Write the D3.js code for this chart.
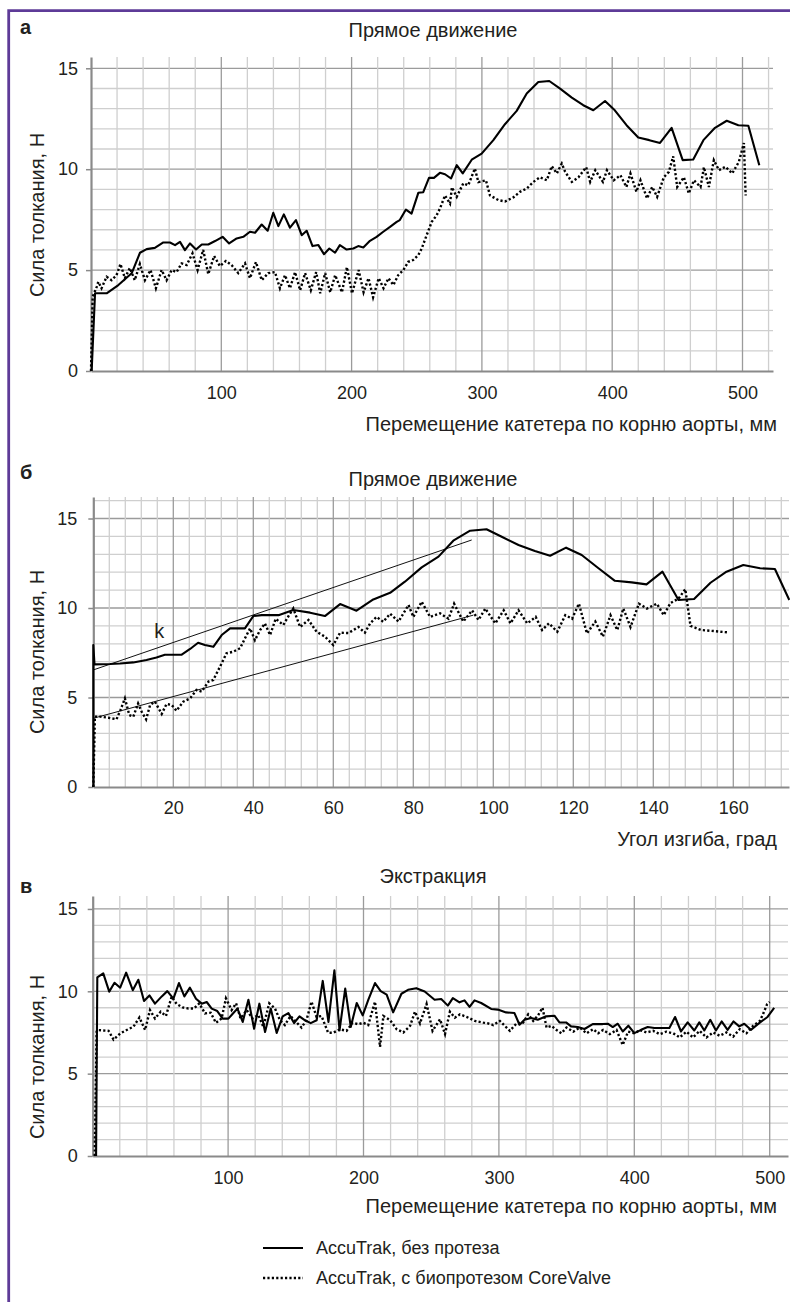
<!DOCTYPE html>
<html>
<head>
<meta charset="utf-8">
<script src="https://cdn.jsdelivr.net/npm/d3@7"></script>
<style>
  body { margin: 0; background: #fff; }
  svg text { font-family: "Liberation Sans", Arial, sans-serif; fill: #231f20; }
</style>
</head>
<body>
<svg id="chart" width="790" height="1302"></svg>
<script>
// ---- data (x: mm or degrees, y: N) ----
const aSolid = [[0.5,0],[3.1,3.85],[12,3.85],[21,4.26],[31.2,4.84],[37.6,5.86],[42.7,6.04],[49,6.1],[55.5,6.37],[60.6,6.37],[64.5,6.24],[68.3,6.4],[72.1,5.99],[76,6.32],[80.6,6.02],[85,6.27],[90,6.27],[95.2,6.44],[101,6.65],[106,6.32],[111.8,6.57],[116.9,6.65],[122,6.9],[125.9,6.85],[131,7.26],[135.6,6.95],[139.9,7.84],[143.8,7.18],[148,7.76],[152.7,7.1],[157.3,7.48],[161.7,6.73],[165.5,6.95],[170,6.19],[174.5,6.24],[178.8,5.79],[182.9,6.07],[187.3,5.86],[191,6.24],[196.2,6.02],[201.3,6.07],[205.1,6.19],[209,6.12],[214.1,6.45],[219.2,6.65],[224.3,6.9],[229.5,7.14],[234.6,7.39],[237,7.48],[241.7,8.0],[246,7.8],[251.2,8.83],[255,8.86],[259.4,9.57],[263.2,9.57],[267.8,9.82],[271.7,9.75],[276.3,9.54],[280.7,10.2],[285.3,9.79],[292.2,10.47],[299.8,10.77],[308.8,11.44],[317.7,12.23],[326.7,12.89],[334.4,13.75],[343.3,14.32],[351.7,14.37],[360,13.99],[369,13.55],[377.8,13.17],[385.5,12.92],[394.5,13.38],[402,12.92],[411,12.18],[420,11.57],[428.5,11.44],[436.7,11.3],[445.6,12.05],[454.1,10.45],[462.2,10.48],[470,11.44],[478.9,12.05],[487.9,12.4],[496.8,12.18],[504.5,12.15],[512.9,10.2]];

const aDotted = [[0,0],[1.3,3.68],[4.4,4.17],[5.6,4.42],[8.1,4.1],[12,4.67],[15.8,4.5],[19.6,4.75],[22.6,5.3],[26,4.6],[29.8,5.1],[33.6,4.5],[37.5,5.3],[41.4,4.5],[45.7,5.0],[49.8,4.1],[54.2,5.0],[58,4.5],[61.9,5.0],[65.7,4.9],[69.5,5.33],[73.4,5.25],[77.9,5.83],[81.8,5.0],[86.1,6.0],[90,4.8],[94.5,5.7],[98.9,5.2],[103.5,5.45],[107.9,5.25],[113,4.85],[118.2,5.33],[122,4.6],[126.6,5.4],[131,4.5],[136,4.85],[141.2,4.9],[145,4.1],[148.9,4.75],[152.7,4.1],[156.6,4.9],[160.5,4.0],[164.3,4.85],[168.7,4.0],[172.8,4.9],[175.9,3.85],[179.7,4.85],[183.6,3.9],[187.4,4.75],[192.6,3.9],[196.4,5.15],[200.3,3.85],[205.4,5.0],[209.2,3.9],[213,4.6],[216.5,3.65],[220.8,4.6],[224.5,4.1],[228.3,4.6],[232.1,4.26],[235.8,4.75],[239.7,5.0],[243.5,5.41],[247.3,5.5],[251.2,5.74],[253.8,6.07],[257.6,6.73],[261.5,7.39],[265.3,7.72],[267.8,8.05],[271.7,8.7],[275.5,8.3],[277,9.1],[280.7,8.63],[285.7,9.3],[289.5,9.2],[294.6,10.03],[297.3,9.36],[303.1,9.45],[306.2,8.7],[312.6,8.47],[317.7,8.4],[324.1,8.6],[329.2,8.88],[334.4,9.04],[339.5,9.37],[344.6,9.6],[349.8,9.45],[353.6,10.15],[357.5,9.79],[361.3,10.28],[363.9,9.87],[369,9.37],[374.1,9.6],[380,10.1],[383.1,9.37],[387,9.95],[392.9,9.37],[396,9.95],[401.2,9.45],[406.3,9.7],[410.9,9.12],[414,9.79],[418.6,8.88],[421.7,9.45],[426.8,8.55],[430.7,9.12],[434.5,8.63],[439.6,9.6],[443.5,9.87],[446.8,10.64],[449.9,9.12],[455,9.6],[458.8,8.8],[462.7,9.45],[467.8,9.12],[470.4,10.1],[474.2,9.12],[478,10.45],[481.9,9.95],[487,10.12],[492.1,9.79],[497.2,10.36],[501.1,11.3],[502.4,8.7]];

const bSolid = [[0,0],[0,7.93],[0.3,6.85],[4.2,6.87],[6.7,6.9],[10,6.96],[13.3,7.09],[15.8,7.24],[17.9,7.39],[22.1,7.39],[24.2,7.71],[26.2,8.06],[27.9,7.93],[30,7.83],[32.1,8.49],[34.2,8.86],[37.9,8.86],[40,9.55],[42.1,9.6],[46.3,9.6],[50,9.89],[54.2,9.74],[57.9,9.55],[61.7,10.22],[65.8,9.85],[70,10.48],[74.2,10.85],[77.9,11.47],[82.1,12.27],[86.3,12.87],[90,13.76],[94.2,14.32],[98.3,14.4],[102.1,13.98],[106.3,13.52],[110.4,13.18],[114.2,12.92],[118.2,13.37],[122.1,12.96],[126.3,12.22],[130.4,11.52],[134.6,11.43],[138.3,11.32],[142.3,12.03],[146.3,10.45],[150.2,10.5],[154.3,11.41],[158.3,12.03],[162.5,12.4],[166.7,12.22],[170.4,12.18],[174,10.45]];

const bDotted = [[0,0],[0.4,3.93],[1.7,3.93],[3.8,3.87],[5.8,3.78],[6.8,4.3],[7.9,4.95],[9,4.02],[10,3.93],[11.2,4.67],[12.1,4.2],[13.2,3.78],[14.2,4.58],[15.4,4.77],[17.1,4.08],[18.3,4.64],[19.6,4.58],[20.8,4.26],[22.5,4.77],[24.2,4.95],[25.8,5.42],[27.1,5.33],[28.8,5.89],[30,5.98],[31.7,6.73],[33.3,7.47],[35,7.56],[36.7,7.75],[37.9,8.3],[39.2,8.86],[40.4,8.2],[41.7,8.77],[42.9,9.14],[44.2,8.49],[45.6,9.4],[47.5,9.05],[48.8,9.55],[50,9.97],[51.7,8.94],[53.8,9.33],[55.8,8.68],[57.9,8.4],[60,7.93],[61.7,8.62],[63.8,8.6],[66.3,8.94],[67.9,8.62],[69.2,9.14],[70.8,9.5],[72.5,9.23],[74.2,9.68],[76.3,9.24],[78.8,10.17],[80,9.5],[82.1,10.35],[84.2,9.5],[86.7,9.7],[88.8,9.4],[90.2,10.24],[92.5,9.24],[94.7,9.87],[96.3,9.33],[98,9.97],[100.5,9.14],[102.6,9.87],[104.3,9.14],[106.3,9.87],[108.5,9.14],[110.6,9.5],[112.2,8.77],[113.9,9.14],[116,8.68],[118,9.6],[119.7,9.4],[121.4,10.24],[123.4,8.58],[125.5,9.24],[127.4,8.4],[129.3,9.6],[131,8.77],[132.5,9.97],[134.3,8.94],[136.4,10.24],[138.4,9.97],[140.9,10.24],[142.6,9.6],[144.3,10.28],[146.3,10.52],[148,11.05],[149.3,9.0],[151.9,8.77],[155.2,8.71],[158.5,8.64]];

// straight reference lines drawn over panel б: [x0, y0, x1, y1]
const bTrendUpper = [0, 6.54, 94.6, 13.8];
const bTrendLower = [0, 3.84, 95, 9.6];
const bTrendLabel = [16.5, 8.3];

const cSolid = [[2.5,0],[3.4,10.85],[7.8,11.09],[12.2,9.98],[16.1,10.52],[20.3,10.22],[24.7,11.13],[29.6,10.07],[33.7,10.7],[37.9,9.41],[41.9,9.75],[46,9.25],[51,9.69],[55.1,10.01],[59.6,9.55],[63.7,10.5],[67.7,9.69],[71.8,10.22],[76.3,9.55],[80.5,9.25],[84.2,9.35],[87.9,8.95],[92,8.8],[96,8.34],[100.2,8.34],[103.9,8.68],[106.9,8.95],[110.8,8.14],[115,9.49],[119.2,7.73],[123.1,9.25],[127.3,7.53],[131.5,8.95],[135.9,7.47],[140.3,8.48],[144.5,8.68],[148.7,8.07],[152.7,8.48],[156.8,8.24],[161,8.07],[165.4,8.24],[169.9,10.63],[174.1,8.14],[178.5,11.27],[182.3,7.63],[186.5,10.16],[190.6,7.84],[195,9.29],[199.4,8.54],[203.6,9.49],[208.5,10.5],[212.7,10.01],[217.1,9.8],[221.9,8.72],[228,9.85],[232.9,10.09],[239,10.19],[245.2,9.99],[252.5,9.49],[257.4,9.53],[262.3,9.13],[266,9.59],[270.9,9.33],[274.6,9.45],[278.3,9.05],[282,9.45],[286.9,9.29],[294.3,8.93],[299.2,8.89],[305.3,8.72],[311.5,8.68],[315.2,7.97],[318.9,8.27],[323.8,8.38],[328.7,8.27],[334.9,8.48],[341,8.52],[344.7,8.11],[349.6,8.11],[353.3,7.87],[358.3,7.83],[363.2,7.71],[369.3,8.01],[376.7,8.01],[380.4,8.03],[384.1,7.83],[387.8,8.03],[391.5,7.56],[395.6,7.91],[400.1,7.46],[405,7.66],[409.9,7.83],[414.8,7.77],[421,7.77],[425.9,7.77],[430.1,8.44],[434.5,7.56],[439.4,8.11],[444.3,7.62],[448,8.11],[451.7,7.62],[456.1,8.27],[460.3,7.62],[464.5,8.17],[468.9,7.66],[473.3,8.17],[477.5,7.87],[481.2,8.03],[486.1,7.66],[492.2,8.07],[498.4,8.44],[503.3,8.99]];

const cDotted = [[1.5,0],[2.9,7.55],[3.5,7.65],[11.7,7.6],[15.4,7.07],[20.3,7.44],[25.1,7.65],[30.1,7.85],[34.5,8.41],[38.7,7.65],[42.3,8.86],[46,8.35],[50.2,8.76],[54.1,8.5],[58.3,9.67],[62,9.23],[66.4,9.02],[70.6,8.96],[74.8,8.96],[78.7,9.27],[82.9,8.66],[87.1,8.7],[91,8.09],[95.2,8.35],[98.4,9.57],[102.6,8.86],[105.9,9.27],[109.2,8.35],[113.7,8.86],[118.1,8.35],[122.3,8.56],[126,7.85],[130.4,9.27],[134.6,8.96],[138.3,8.25],[141.9,7.95],[146.1,8.5],[150.1,8.15],[154.2,7.8],[157.9,8.25],[161.6,9.37],[165.3,8.45],[169,8.5],[173.9,7.48],[177.6,7.48],[182.5,7.69],[187.5,7.6],[191.9,8.09],[196.1,8.0],[199.8,8.09],[203.5,7.95],[208.5,9.37],[212.2,6.63],[214.7,8.5],[219.6,8.25],[224.5,7.7],[229.4,7.5],[234.4,7.9],[238,8.76],[241.7,8.05],[246.6,9.23],[251,7.6],[256.5,8.3],[260.2,7.4],[263.8,8.76],[267.5,8.4],[271.2,8.6],[276.1,8.45],[282.3,8.2],[288.4,8.1],[292.1,8.05],[295.8,7.95],[300.7,8.2],[304.4,7.9],[308.1,7.6],[313,8.05],[317.9,8.1],[321.6,8.6],[325.3,8.2],[329,8.55],[332.2,9.0],[335.2,7.8],[338.9,7.9],[342.6,7.65],[346.2,7.45],[349.9,7.8],[354.9,7.55],[359.8,7.8],[364.7,7.45],[369.6,7.7],[373.3,7.45],[377,7.65],[381.9,7.4],[386.9,7.65],[391.4,6.74],[395.4,7.55],[400.4,7.45],[404,7.65],[409,7.5],[413.9,7.6],[418.8,7.4],[423.7,7.55],[428.7,7.45],[433.6,7.2],[438.5,7.55],[443.4,7.2],[448.3,7.6],[453.3,7.2],[458.2,7.5],[463.1,7.3],[468,7.5],[473,7.25],[477.9,7.7],[482.8,7.45],[487.7,7.9],[492.7,8.2],[495,8.6],[498,9.2],[500,9.35]];

const yTicks = [0, 5, 10, 15];
const aXTicks = [100, 200, 300, 400, 500];
const bXTicks = [20, 40, 60, 80, 100, 120, 140, 160];
const cXTicks = [100, 200, 300, 400, 500];

const Y_LABEL = "Сила толкания, Н";
const X_LABEL_MM = "Перемещение катетера по корню аорты, мм";
const X_LABEL_DEG = "Угол изгиба, град";
const LEGEND = ["AccuTrak, без протеза", "AccuTrak, с биопротезом CoreValve"];

// ---- layout ----
const FRAME_COLOR = "#5e3b98";
const MINOR_GRID = "#cfcfcf";
const MAJOR_GRID = "#9b9b9b";
const AXIS_COLOR = "#8a8a8a";
const LINE_WIDTH = 2.1;
const DOT_DASH = "2.2 2.2";
const TICK_FONT = 18;
const TEXT_FONT = 20;

const PANELS = [
    { letter: "а", letterY: 34, title: "Прямое движение", titleY: 37,
      x0: 91, kx: 1.303, right: 773, y0: 371, ky: 20.18, top: 57,
      minorX: 20, majorX: 100, xTicks: aXTicks, xLabel: X_LABEL_MM, xLabelY: 431, yLabelY: 215,
      tickPadX: 15, tickPadY: 8, solid: aSolid, dotted: aDotted },
    { letter: "б", letterY: 479, title: "Прямое движение", titleY: 486,
      x0: 93.3, kx: 4.0, right: 789, y0: 787, ky: 17.9, top: 497,
      minorX: 4, majorX: 20, xTicks: bXTicks, xLabel: X_LABEL_DEG, xLabelY: 846, yLabelY: 652,
      tickPadX: 14, tickPadY: 11, solid: bSolid, dotted: bDotted,
      trends: [bTrendUpper, bTrendLower], trendLabel: bTrendLabel },
    { letter: "в", letterY: 893, title: "Экстракция", titleY: 883,
      x0: 92.7, kx: 1.354, right: 788, y0: 1156, ky: 16.47, top: 896,
      minorX: 20, majorX: 100, xTicks: cXTicks, xLabel: X_LABEL_MM, xLabelY: 1213, yLabelY: 1057,
      tickPadX: 15, tickPadY: 10, solid: cSolid, dotted: cDotted }
];

const svg = d3.select("#chart");

// purple frame (top and left edges)
svg.append("path")
    .attr("d", "M8.7,1302 V10.7 H790")
    .attr("fill", "none")
    .attr("stroke", FRAME_COLOR)
    .attr("stroke-width", 2.8);

PANELS.forEach(drawPanel);
drawLegend();

function drawPanel(p) {
    const xMax = (p.right - p.x0) / p.kx;
    const yMax = (p.y0 - p.top) / p.ky;
    const x = d3.scaleLinear().domain([0, xMax]).range([p.x0, p.right]);
    const y = d3.scaleLinear().domain([0, yMax]).range([p.y0, p.top]);
    const g = svg.append("g");

    // grid
    const vLines = d3.range(p.minorX, xMax, p.minorX);
    const hLines = d3.range(1, Math.floor(yMax) + 1);
    const isMajorX = v => Math.abs(v / p.majorX - Math.round(v / p.majorX)) < 1e-6;
    g.append("g").selectAll("line")
        .data(hLines)
        .join("line")
        .attr("x1", p.x0).attr("x2", p.right)
        .attr("y1", d => y(d)).attr("y2", d => y(d))
        .attr("stroke", d => d % 5 === 0 ? MAJOR_GRID : MINOR_GRID)
        .attr("stroke-width", 1.3);
    g.append("g").selectAll("line")
        .data(vLines)
        .join("line")
        .attr("x1", d => x(d)).attr("x2", d => x(d))
        .attr("y1", p.y0).attr("y2", p.top)
        .attr("stroke", d => isMajorX(d) ? MAJOR_GRID : MINOR_GRID)
        .attr("stroke-width", 1.3);

    // axes
    const yAxis = g.append("g")
        .attr("transform", `translate(${p.x0},0)`)
        .call(d3.axisLeft(y).tickValues(yTicks).tickSize(5).tickSizeOuter(0).tickPadding(p.tickPadY));
    const xAxis = g.append("g")
        .attr("transform", `translate(0,${p.y0})`)
        .call(d3.axisBottom(x).tickValues(p.xTicks).tickSize(0).tickSizeOuter(0).tickPadding(p.tickPadX));
    [yAxis, xAxis].forEach(a => {
        a.select(".domain").attr("stroke", AXIS_COLOR).attr("stroke-width", 2.2);
        a.selectAll(".tick line").attr("stroke", AXIS_COLOR).attr("stroke-width", 1.5);
        a.selectAll(".tick text")
            .attr("fill", "#231f20")
            .style("font-family", "'Liberation Sans', Arial, sans-serif")
            .style("font-size", TICK_FONT + "px");
    });

    // reference lines
    if (p.trends) {
        g.append("g").selectAll("line")
            .data(p.trends)
            .join("line")
            .attr("x1", d => x(d[0])).attr("y1", d => y(d[1]))
            .attr("x2", d => x(d[2])).attr("y2", d => y(d[3]))
            .attr("stroke", "#111")
            .attr("stroke-width", 1);
        g.append("text")
            .attr("x", x(p.trendLabel[0]))
            .attr("y", y(p.trendLabel[1]))
            .attr("text-anchor", "middle")
            .style("font-size", TEXT_FONT + "px")
            .text("k");
    }

    // series
    const line = d3.line().x(d => x(d[0])).y(d => y(d[1]));
    g.append("path")
        .datum(p.dotted)
        .attr("d", line)
        .attr("fill", "none")
        .attr("stroke", "#000")
        .attr("stroke-width", LINE_WIDTH + 0.3)
        .attr("stroke-dasharray", DOT_DASH);
    g.append("path")
        .datum(p.solid)
        .attr("d", line)
        .attr("fill", "none")
        .attr("stroke", "#000")
        .attr("stroke-width", LINE_WIDTH)
        .attr("stroke-linejoin", "round");

    // texts
    g.append("text")
        .attr("x", 20).attr("y", p.letterY)
        .style("font-size", "20px").style("font-weight", "bold")
        .text(p.letter);
    g.append("text")
        .attr("x", 433).attr("y", p.titleY)
        .attr("text-anchor", "middle")
        .style("font-size", TEXT_FONT + "px")
        .text(p.title);
    g.append("text")
        .attr("x", 777).attr("y", p.xLabelY)
        .attr("text-anchor", "end")
        .style("font-size", TEXT_FONT + "px")
        .text(p.xLabel);
    g.append("text")
        .attr("transform", `translate(44,${p.yLabelY}) rotate(-90)`)
        .attr("text-anchor", "middle")
        .style("font-size", TEXT_FONT + "px")
        .text(Y_LABEL);
}

function drawLegend() {
    const rows = [
        { y: 1248, dash: null, text: LEGEND[0] },
        { y: 1278, dash: DOT_DASH, text: LEGEND[1] }
    ];
    const lg = svg.append("g");
    rows.forEach(r => {
        lg.append("line")
            .attr("x1", 263).attr("x2", 303)
            .attr("y1", r.y).attr("y2", r.y)
            .attr("stroke", "#000")
            .attr("stroke-width", r.dash ? 2.3 : 2.1)
            .attr("stroke-dasharray", r.dash);
        lg.append("text")
            .attr("x", 316).attr("y", r.y + 6)
            .style("font-size", "18px")
            .text(r.text);
    });
}
</script>
</body>
</html>
